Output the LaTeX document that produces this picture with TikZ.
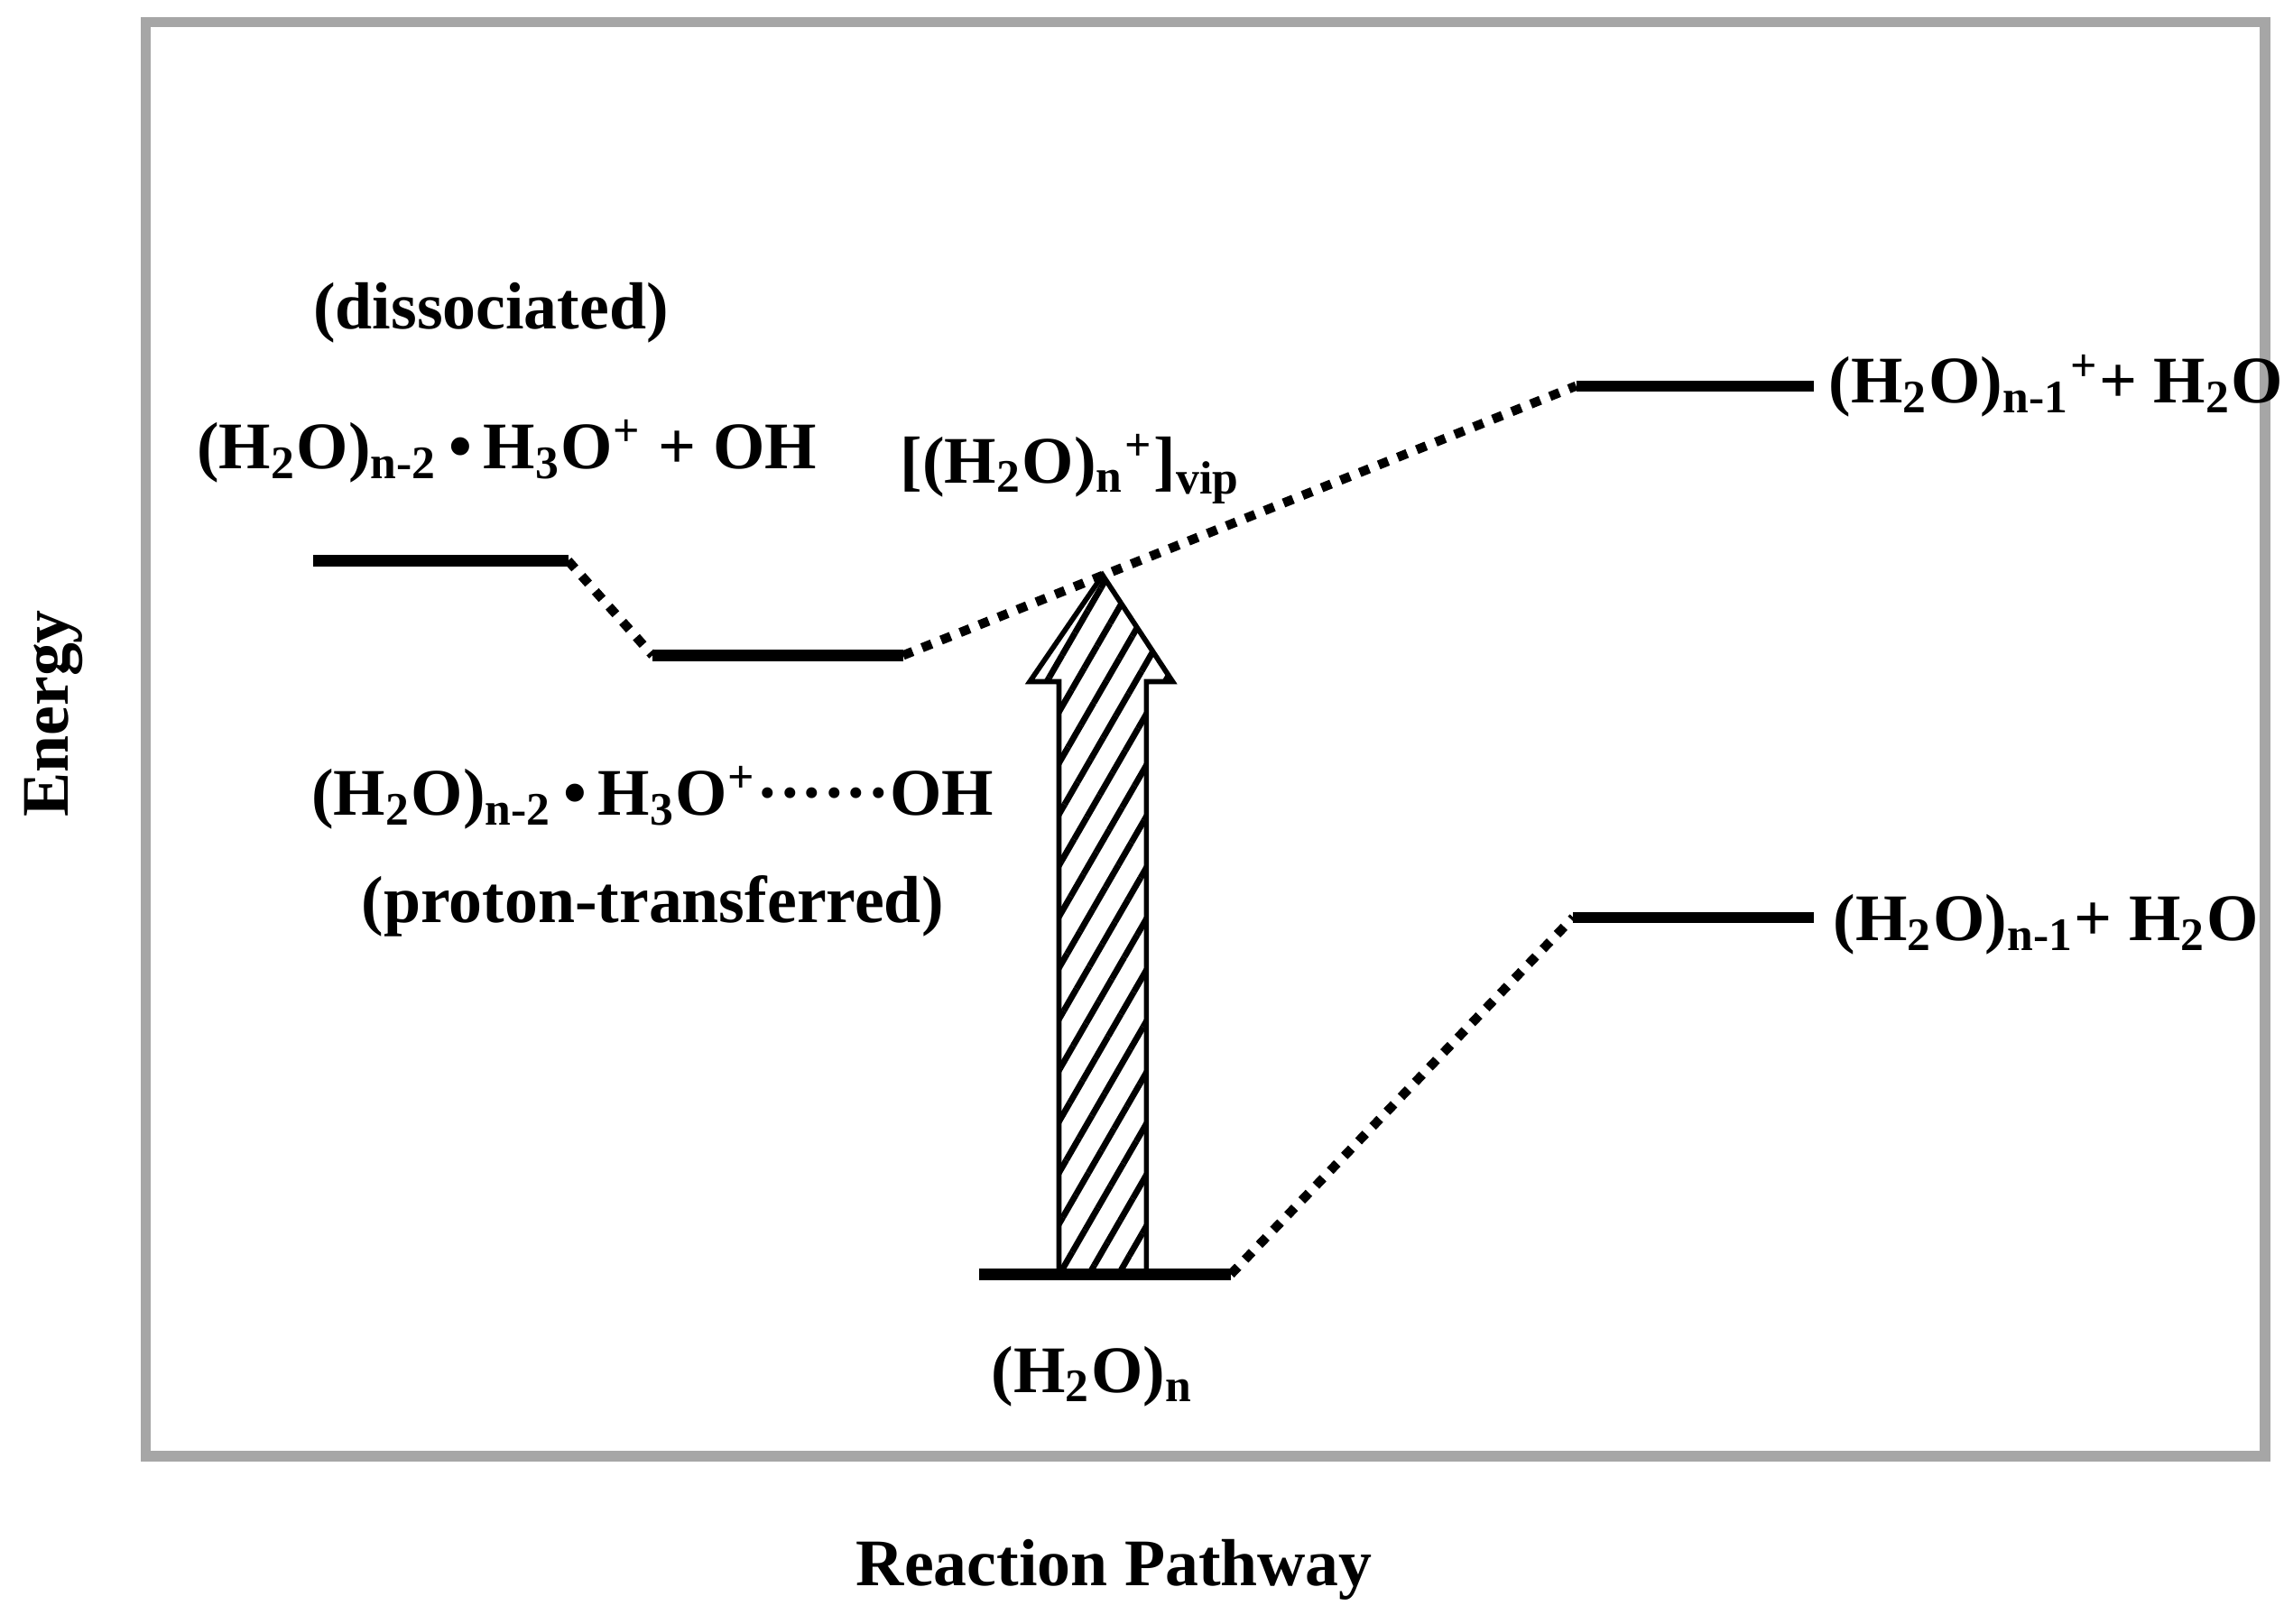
\documentclass[tikz,border=0pt]{standalone}
\usepackage{fontspec}
\setmainfont{Liberation Serif}
\usetikzlibrary{patterns.meta}
\newcommand{\sbs}[1]{\textsubscript{#1}}
\newcommand{\sps}[1]{\textsuperscript{#1}}
\begin{document}
\begin{tikzpicture}[x=0.01cm,y=-0.01cm,
  lvl/.style={line width=2.2pt},
  dots/.style={line width=1.8pt,dash pattern=on 2pt off 2pt},
  lbl/.style={font=\bfseries\fontsize{13}{15}\selectfont,inner sep=0pt}]
\useasboundingbox (0,0) rectangle (1568,1115);
\draw[gray!70,line width=2pt] (100,15) rectangle (1555,1000);
\coordinate (a1) at (215,385); \coordinate (a2) at (390,385);
\coordinate (b1) at (448,450); \coordinate (b2) at (620,450);
\coordinate (c1) at (1082,265); \coordinate (c2) at (1245,265);
\coordinate (d1) at (672,875); \coordinate (d2) at (845,875);
\coordinate (e1) at (1080,630); \coordinate (e2) at (1245,630);
\draw[lvl] (a1)--(a2); \draw[lvl] (b1)--(b2); \draw[lvl] (c1)--(c2);
\draw[lvl] (d1)--(d2); \draw[lvl] (e1)--(e2);
\draw[dots] (a2)--(b1); \draw[dots] (b2)--(c1); \draw[dots] (d2)--(e1);
\draw[line width=1pt,pattern={Lines[angle=60,distance=5pt,line width=1.2pt]}]
  (727,875)--(727,468)--(707,468)--(757,395)--(805,468)--(787,468)--(787,875)--cycle;
\node[lbl] (t1) at (337,215) {(dissociated)};
\node[lbl] (t2) at (348,310) {(H\sbs{2}O)\sbs{n-2}\,•\,H\sbs{3}O\sps{+} + OH};
\node[lbl] (t3) at (735,322) {[(H\sbs{2}O)\sbs{n}\sps{+}]\sbs{vip}};
\node[lbl] (t4) at (448,548) {(H\sbs{2}O)\sbs{n-2}\,•\,H\sbs{3}O\sps{+}······OH};
\node[lbl] (t5) at (448,622) {(proton-transferred)};
\node[lbl] (t6) at (750,945) {(H\sbs{2}O)\sbs{n}};
\node[lbl,anchor=west] (t7) at (1255,265) {(H\sbs{2}O)\sbs{n-1}\sps{+}+ H\sbs{2}O};
\node[lbl,anchor=west] (t8) at (1258,635) {(H\sbs{2}O)\sbs{n-1}+ H\sbs{2}O};
\node[lbl,rotate=90] (t9) at (37,490) {Energy};
\node[lbl] (t10) at (765,1078) {Reaction Pathway};
\end{tikzpicture}
\end{document}
